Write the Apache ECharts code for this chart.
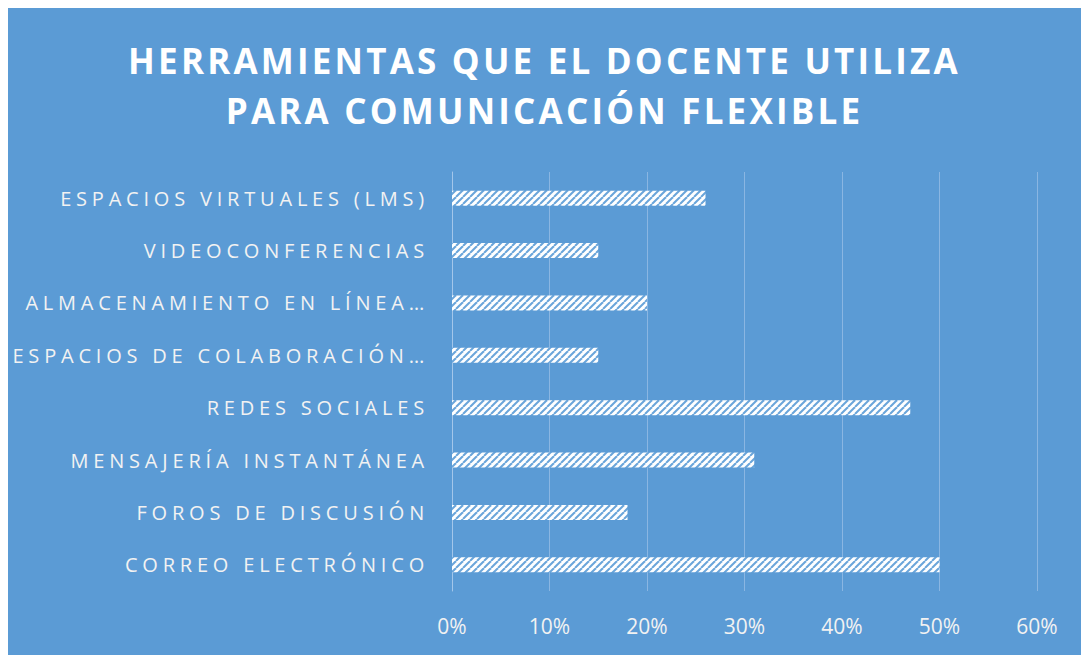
<!DOCTYPE html>
<html>
<head>
<meta charset="utf-8">
<script src="https://cdn.jsdelivr.net/npm/echarts@6/dist/echarts.min.js"></script>
<style>
  html, body { margin: 0; padding: 0; background: #fff; }
  #chart { position: absolute; left: 8px; top: 8px; width: 1073px; height: 647px; }
  /* espaciado de letras del título y de las categorías */
  #chart text[style*="35px"] { letter-spacing: 3.2px; }
  #chart text[style*="20px"] { letter-spacing: 4.8px; }
</style>
</head>
<body>
<div id="chart"></div>
<script>
// categorías de arriba hacia abajo
var categorias = [
  'ESPACIOS VIRTUALES (LMS)',
  'VIDEOCONFERENCIAS',
  'ALMACENAMIENTO EN LÍNEA…',
  'ESPACIOS DE COLABORACIÓN…',
  'REDES SOCIALES',
  'MENSAJERÍA INSTANTÁNEA',
  'FOROS DE DISCUSIÓN',
  'CORREO ELECTRÓNICO'
];
var porcentajes = [0.26, 0.15, 0.20, 0.15, 0.47, 0.31, 0.18, 0.50];

// trama de rayas diagonales (blanco con líneas azules)
function trama() {
  var s = 7;
  var c = document.createElement('canvas');
  c.width = s; c.height = s;
  var ctx = c.getContext('2d');
  ctx.fillStyle = '#ffffff';
  ctx.fillRect(0, 0, s, s);
  ctx.strokeStyle = '#6aa5da';
  ctx.lineWidth = 2;
  for (var k = -1; k <= 1; k++) {
    ctx.beginPath();
    ctx.moveTo(k * s, s);
    ctx.lineTo(k * s + s, 0);
    ctx.stroke();
  }
  return c;
}

var myChart = echarts.init(document.getElementById('chart'), null, { renderer: 'svg' });

var option = {
  backgroundColor: '#5b9bd5',
  animation: false,
  title: {
    text: 'HERRAMIENTAS QUE EL DOCENTE UTILIZA\nPARA COMUNICACIÓN FLEXIBLE',
    left: 'center',
    top: 27,
    padding: 0,
    textStyle: {
      color: '#ffffff',
      fontFamily: 'Open Sans',
      fontWeight: 'bold',
      fontSize: 35,
      lineHeight: 50
    }
  },
  grid: { left: 444, right: 44, top: 164, bottom: 64 },
  xAxis: {
    type: 'value',
    min: 0,
    max: 0.6,
    interval: 0.1,
    axisLine: { show: false },
    axisTick: { show: false },
    splitLine: { lineStyle: { color: '#8ab6e2', width: 1 } },
    axisLabel: {
      color: '#f2f2f2',
      fontFamily: 'Open Sans',
      fontSize: 21,
      margin: 24,
      formatter: function (v) { return Math.round(v * 100) + '%'; }
    }
  },
  yAxis: {
    type: 'category',
    inverse: true,
    data: categorias,
    axisLine: { show: true, lineStyle: { color: '#a3c6ea', width: 1 } },
    axisTick: { show: false },
    axisLabel: {
      color: '#f2f2f2',
      fontFamily: 'Open Sans',
      fontSize: 20,
      margin: 23
    }
  },
  series: [{
    type: 'bar',
    data: porcentajes,
    barWidth: 15,
    itemStyle: {
      color: { image: trama(), repeat: 'repeat', imageWidth: 7, imageHeight: 7 }
    }
  }]
};

myChart.setOption(option);
</script>
</body>
</html>
